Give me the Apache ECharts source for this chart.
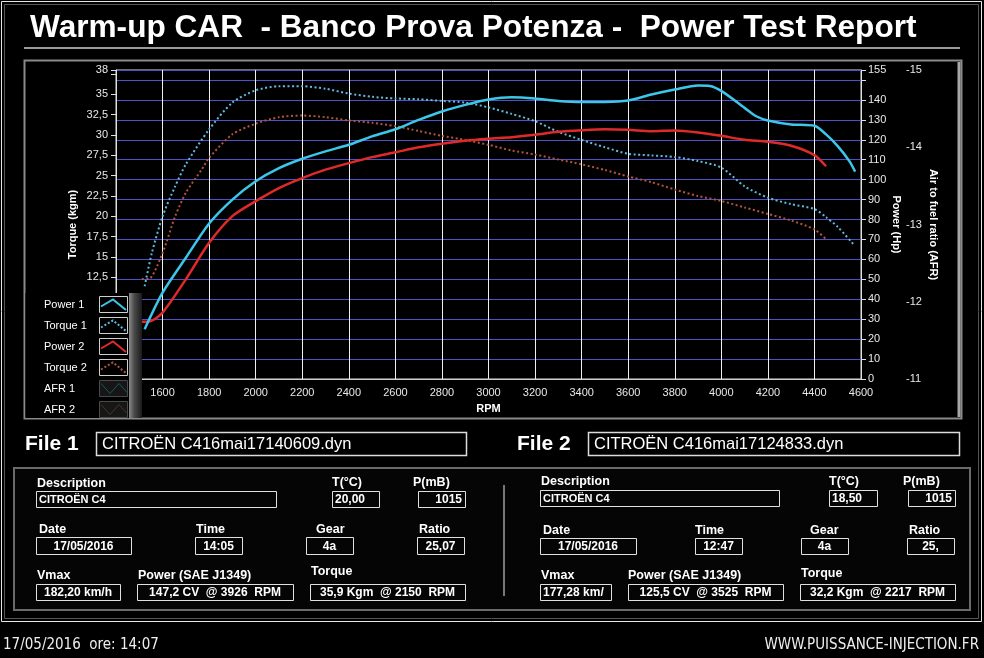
<!DOCTYPE html>
<html><head><meta charset="utf-8">
<script src="https://cdn.jsdelivr.net/npm/echarts@6/dist/echarts.min.js"></script>
<style>html,body{margin:0;padding:0;background:#000;}#c{width:984px;height:658px;}</style>
</head><body><div id="c"></div>
<script>
// ---------- data ----------
const rpmPower1 = [1523,1600,1700,1800,1900,2000,2100,2200,2300,2400,2500,2600,2700,2800,2900,3000,3100,3200,3300,3400,3500,3600,3700,3800,3900,3950,4000,4100,4150,4200,4300,4400,4450,4500,4550,4575];
const power1    = [25,43.3,60.8,78,90,99.2,105.8,110.5,114.2,117.5,121.7,125.3,130,134.2,137.5,140.2,141.3,140.7,139.5,139,139,139.7,142.7,145.2,147.2,147,144.5,136,131.8,129.7,127.7,127,122.7,116.8,109.3,104];
const rpmTorque1 = [1523,1554,1600,1654,1700,1800,1900,2000,2100,2200,2300,2400,2500,2600,2700,2800,2900,3000,3100,3200,3300,3400,3500,3600,3700,3800,3900,4000,4100,4200,4300,4400,4450,4500,4570];
const torque1    = [11.4,15.5,20.0,23.7,26.4,30.7,34.0,35.5,36.0,36.0,35.7,35.1,34.7,34.5,34.4,34.2,34.0,33.4,32.6,31.7,30.4,29.4,28.5,27.7,27.5,27.3,26.8,26.0,23.7,22.3,21.5,20.9,19.9,18.7,16.5];
const rpmPower2 = [1511,1547,1600,1700,1800,1900,2000,2100,2200,2300,2400,2500,2600,2700,2800,2900,3000,3100,3200,3300,3400,3500,3600,3700,3800,3900,4000,4100,4200,4300,4400,4450];
const power2    = [28.7,28.9,33.3,50,68.3,81.7,89.2,95.8,100.8,105,108.3,111.3,113.7,116.2,118,119.5,120.5,121.3,122.5,124,124.8,125.3,125,124.3,124.7,123.7,122,120,119,117,112.3,106.7];
const rpmTorque2 = [1511,1540,1600,1654,1700,1769,1800,1900,2000,2100,2200,2300,2400,2500,2600,2700,2800,2900,3000,3100,3200,3300,3400,3500,3600,3700,3800,3900,4000,4100,4200,4300,4400,4450];
const torque2    = [12.3,12.3,15.5,20.0,22.9,25.8,27.2,30.1,31.4,32.2,32.4,32.2,31.8,31.5,31.1,30.5,29.9,29.4,28.8,28.1,27.6,27.0,26.4,25.7,24.9,24.2,23.3,22.5,21.9,21.1,20.3,19.5,18.4,17.2];

const legendNames = ['Power 1','Torque 1','Power 2','Torque 2','AFR 1','AFR 2'];
const titleText = 'Warm-up CAR  - Banco Prova Potenza -  Power Test Report';
const file1Name = 'CITROËN C416mai17140609.dyn';
const file2Name = 'CITROËN C416mai17124833.dyn';
const file1Values = ['CITROËN C4','20,00','1015','17/05/2016','14:05','4a','25,07','182,20 km/h','147,2 CV  @ 3926  RPM','35,9 Kgm  @ 2150  RPM'];
const file2Values = ['CITROËN C4','18,50','1015','17/05/2016','12:47','4a','25,','177,28 km/','125,5 CV  @ 3525  RPM','32,2 Kgm  @ 2217  RPM'];
const fieldLabels = ['Description','T(°C)','P(mB)','Date','Time','Gear','Ratio','Vmax','Power (SAE J1349)','Torque'];
const footerLeft = '17/05/2016  ore: 14:07';
const footerRight = 'WWW.PUISSANCE-INJECTION.FR';

// ---------- styling ----------
const FONT = "'Liberation Sans', Arial, sans-serif";
const NARROW = "'Liberation Sans Narrow', 'DejaVu Sans Condensed', 'Liberation Sans', sans-serif";
const C_P1 = '#3cc6ea', C_T1 = '#62b8e0', C_P2 = '#e02a2a', C_T2 = '#b0553c';
const pairs = (xs, ys) => xs.map((x, i) => [x, ys[i]]);
const comma = v => String(v).replace('.', ',');

function txt(x, y, text, opt) {
  opt = opt || {};
  return { type: 'text', x: x, y: y, z: opt.z || 50,
    style: { text: text, fill: opt.fill || '#fff',
      font: (opt.weight || 'normal') + ' ' + (opt.size || 12) + 'px ' + (opt.family || FONT),
      align: opt.align || 'left', verticalAlign: opt.va || 'middle',
      textAlign: opt.align || 'left', textVerticalAlign: opt.va || 'middle' } };
}
function rect(x, y, w, h, stroke, lw, fill, z) {
  return { type: 'rect', z: z || 40, shape: { x: x, y: y, width: w, height: h },
    style: { fill: fill || 'none', stroke: stroke, lineWidth: lw || 1 } };
}
function line(x1, y1, x2, y2, stroke, lw, z) {
  return { type: 'line', z: z || 40, shape: { x1: x1, y1: y1, x2: x2, y2: y2 }, style: { stroke: stroke, lineWidth: lw || 1 } };
}

const g = [];
// outer frame
g.push(rect(1.5, 1.5, 980, 620, '#e6e6e6', 1));
g.push(rect(4.5, 4.5, 974, 614, '#555', 1));
// title
g.push(txt(30, 28, titleText, { size: 31.6, weight: 'bold' }));
g.push(line(24, 48, 960, 48, '#9a9a9a', 2));
// chart panel
g.push(rect(24.5, 60.5, 937, 358, '#8a8a8a', 2));
g.push(line(959, 62, 959, 417, '#a8a8a8', 3));

// legend
g.push(rect(25.5, 293, 104, 125, null, 0, '#000', 100));
g.push({ type: 'rect', z: 100, shape: { x: 129, y: 293, width: 13, height: 125 },
  style: { fill: new echarts.graphic.LinearGradient(0, 0, 1, 0, [{ offset: 0, color: '#8a8a8a' }, { offset: 0.4, color: '#4a4a4a' }, { offset: 1, color: '#1a1a1a' }]) } });
const legColors = [C_P1, C_T1, C_P2, C_T2, '#1f5656', '#4a3428'];
legendNames.forEach((name, i) => {
  const cy = 304.5 + i * 21;
  g.push(txt(44, cy, name, { size: 11, z: 101 }));
  const afr = i >= 4;
  g.push(rect(99.5, cy - 8, 28, 16, afr ? '#4a4a4a' : '#cfcfcf', 1, afr ? '#161616' : '#000', 101));
  const pts = afr ? [[101, cy - 5], [110, cy + 5], [119, cy - 5], [127, cy + 4]]
                  : [[101, cy + 2], [113, cy - 5], [126, cy + 5.5]];
  g.push({ type: 'polyline', z: 102, shape: { points: pts },
    style: { fill: 'none', stroke: legColors[i], lineWidth: afr ? 1 : 2,
      lineDash: (i === 1 || i === 3) ? [2, 2] : null } });
});

// file headers
g.push(txt(25, 444, 'File 1', { size: 21, weight: 'bold' }));
g.push(rect(96.5, 432.5, 370, 23, '#dcdcdc', 1.5));
g.push(txt(102, 444, file1Name, { size: 16.5 }));
g.push(txt(517, 444, 'File 2', { size: 21, weight: 'bold' }));
g.push(rect(588.5, 432.5, 371, 23, '#dcdcdc', 1.5));
g.push(txt(594, 444, file2Name, { size: 16.5 }));

// info panel
g.push(rect(14, 468, 956, 142, '#6a6a6a', 2, '#050505', 30));
g.push(line(504, 485, 504, 596, '#777', 2));

// field layout: [labelX, labelY, boxX, boxY, boxW, boxH, align]
const layout1 = [
  [37, 484, 36, 491, 240, 16, 'left'], [332, 483, 332, 491, 47, 16, 'left'], [413, 483, 418, 491, 47, 16, 'right'],
  [39, 530, 36, 537, 95, 17, 'center'], [196, 530, 195, 537, 47, 17, 'center'], [316, 530, 306, 537, 47, 17, 'center'], [419, 530, 417, 537, 47, 17, 'center'],
  [37, 576, 36, 584, 84, 16, 'center'], [138, 576, 137, 584, 156, 16, 'center'], [311, 572, 310, 584, 155, 16, 'center']
];
const layout2 = [
  [541, 482, 540, 490, 239, 16, 'left'], [829, 482, 829, 490, 48, 16, 'left'], [903, 482, 908, 490, 47, 16, 'right'],
  [543, 531, 540, 538, 96, 16, 'center'], [695, 531, 695, 538, 47, 16, 'center'], [810, 531, 801, 538, 47, 16, 'center'], [909, 531, 907, 538, 47, 16, 'center'],
  [541, 576, 540, 584, 71, 16, 'left'], [628, 576, 628, 584, 155, 16, 'center'], [801, 574, 800, 584, 155, 16, 'center']
];
function fields(layout, values) {
  layout.forEach((L, i) => {
    const [lx, ly, bx, by, bw, bh, al] = L;
    g.push(txt(lx, ly, fieldLabels[i], { size: 12.5, weight: 'bold' }));
    g.push(rect(bx + 0.5, by + 0.5, bw, bh, '#e0e0e0', 1, null, 45));
    const tx = al === 'left' ? bx + 3 : al === 'right' ? bx + bw - 3 : bx + bw / 2;
    g.push(txt(tx, by + bh / 2 + 1, values[i], { size: i === 0 ? 11 : 12, weight: 'bold', align: al }));
  });
}
fields(layout1, file1Values);
fields(layout2, file2Values);

// footer
g.push(txt(3, 645, footerLeft, { size: 15, family: NARROW, fill: '#eee' }));
g.push(txt(979, 645, footerRight, { size: 15, family: NARROW, fill: '#eee', align: 'right' }));

// ---------- chart ----------
const chart = echarts.init(document.getElementById('c'), null, { renderer: 'canvas' });
const axisText = { color: '#e8e8e8', fontSize: 11, fontFamily: FONT };
const nameText = { color: '#fff', fontSize: 11, fontWeight: 'bold', fontFamily: FONT };
chart.setOption({
  backgroundColor: '#000',
  animation: false,
  grid: { left: 116, right: 123, top: 70, bottom: 279, show: true, borderColor: '#dddddd', borderWidth: 1, backgroundColor: '#000' },
  xAxis: {
    type: 'value', min: 1400, max: 4600, interval: 200,
    axisLine: { lineStyle: { color: '#cfcfcf' } },
    axisTick: { show: false },
    axisLabel: Object.assign({ margin: 8, formatter: v => String(v) }, axisText),
    splitLine: { show: true, lineStyle: { color: '#f0f0f0', width: 1 } },
    name: 'RPM', nameLocation: 'middle', nameGap: 24, nameMoveOverlap: false, nameTextStyle: nameText
  },
  yAxis: [
    { type: 'value', position: 'left', min: 0, max: 38, interval: 2.5,
      axisLine: { show: true, lineStyle: { color: '#e0e0e0' } },
      axisTick: { show: true, length: 5, lineStyle: { color: '#e0e0e0' } },
      axisLabel: Object.assign({ margin: 8, formatter: v => (v === 37.5 ? '' : comma(v)) }, axisText),
      splitLine: { show: false },
      name: 'Torque (kgm)', nameLocation: 'middle', nameGap: 38, nameMoveOverlap: false, nameTextStyle: nameText },
    { type: 'value', position: 'right', min: 0, max: 155, interval: 10,
      axisLine: { show: true, lineStyle: { color: '#e0e0e0' } },
      axisTick: { show: true, length: 5, lineStyle: { color: '#e0e0e0' } },
      axisLabel: Object.assign({ margin: 7, formatter: v => (v === 150 ? '' : String(v)) }, axisText),
      splitLine: { show: true, lineStyle: { color: '#5050c8', width: 1 } },
      name: 'Power (Hp)', nameLocation: 'middle', nameRotate: -90, nameGap: 30, nameMoveOverlap: false, nameTextStyle: nameText },
    { type: 'value', position: 'right', offset: 40, min: -15, max: -11, interval: 1, inverse: true,
      axisLine: { show: false }, axisTick: { show: false },
      axisLabel: Object.assign({ margin: 5 }, axisText),
      splitLine: { show: false },
      name: 'Air to fuel ratio (AFR)', nameLocation: 'middle', nameRotate: -90, nameGap: 27, nameMoveOverlap: false, nameTextStyle: nameText }
  ],
  series: [
    { name: 'Torque 2', type: 'line', yAxisIndex: 0, data: pairs(rpmTorque2, torque2), showSymbol: false, smooth: 0.25,
      lineStyle: { color: C_T2, width: 2, type: [2, 2.5] }, z: 3 },
    { name: 'Torque 1', type: 'line', yAxisIndex: 0, data: pairs(rpmTorque1, torque1), showSymbol: false, smooth: 0.25,
      lineStyle: { color: C_T1, width: 2, type: [2, 2.5] }, z: 3 },
    { name: 'Power 2', type: 'line', yAxisIndex: 1, data: pairs(rpmPower2, power2), showSymbol: false, smooth: 0.25,
      lineStyle: { color: C_P2, width: 2.5 }, z: 4 },
    { name: 'Power 1', type: 'line', yAxisIndex: 1, data: pairs(rpmPower1, power1), showSymbol: false, smooth: 0.25,
      lineStyle: { color: C_P1, width: 2.5 }, z: 4 }
  ],
  graphic: { elements: g }
});
</script></body></html>
